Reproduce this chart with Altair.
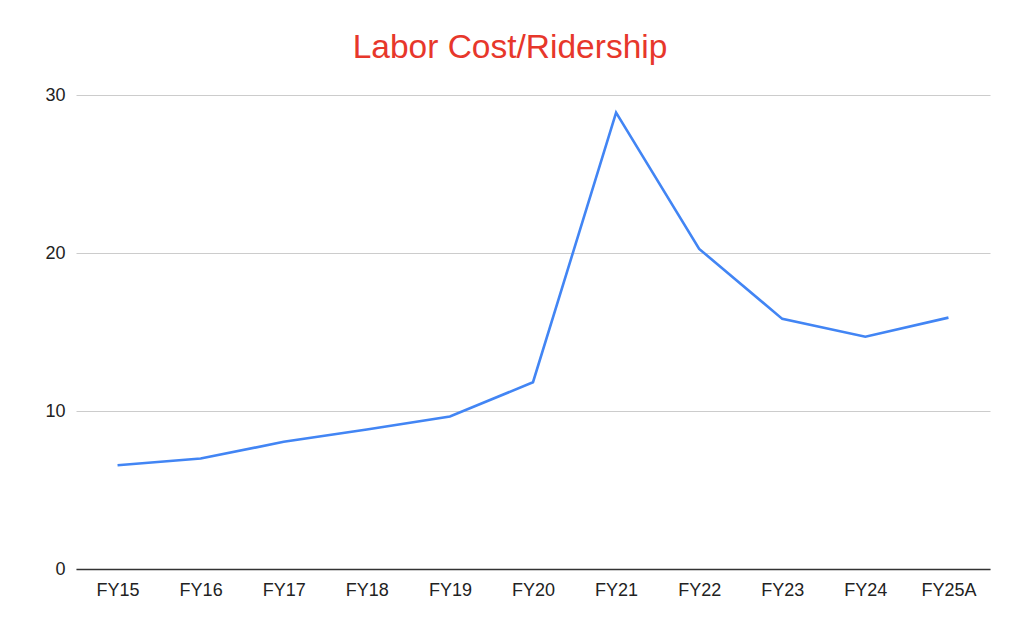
import altair as alt
import pandas as pd

years = ["FY15", "FY16", "FY17", "FY18", "FY19", "FY20", "FY21", "FY22", "FY23", "FY24", "FY25A"]
values = [6.57, 6.99, 8.05, 8.83, 9.65, 11.82, 28.88, 20.26, 15.83, 14.70, 15.91]
y_ticks = [0, 10, 20, 30]

df = pd.DataFrame({"year": years, "value": values})

FONT = "Liberation Sans"

chart = (
    alt.Chart(df)
    .mark_line(color="#4285F4", strokeWidth=2.6)
    .encode(
        x=alt.X(
            "year:N",
            sort=years,
            scale=alt.Scale(type="point", padding=0.5),
            axis=alt.Axis(
                title=None,
                labelAngle=0,
                ticks=False,
                grid=False,
                domain=True,
                domainColor="#333333",
                domainWidth=1.5,
                labelPadding=12,
                labelFontSize=18,
                labelColor="#222222",
                labelFont=FONT,
            ),
        ),
        y=alt.Y(
            "value:Q",
            scale=alt.Scale(domain=[0, 30], nice=False, zero=True),
            axis=alt.Axis(
                title=None,
                values=y_ticks,
                ticks=False,
                domain=False,
                grid=True,
                gridColor="#cccccc",
                gridWidth=1,
                labelPadding=11,
                labelFontSize=18,
                labelColor="#222222",
                labelFont=FONT,
            ),
        ),
    )
    .properties(
        width=914,
        height=474,
        title=alt.TitleParams(
            text="Labor Cost/Ridership",
            color="#e7372b",
            fontSize=33.5,
            font=FONT,
            fontWeight="normal",
            anchor="middle",
            frame="group",
            dx=-23,
            offset=21,
        ),
        autosize=alt.AutoSizeParams(type="none"),
        padding={"left": 68, "top": 87, "right": 26, "bottom": 50},
        background="white",
    )
    .configure_view(strokeWidth=0, stroke=None)
)

chart.save("out.html", embed_options={"renderer": "svg", "actions": False})
